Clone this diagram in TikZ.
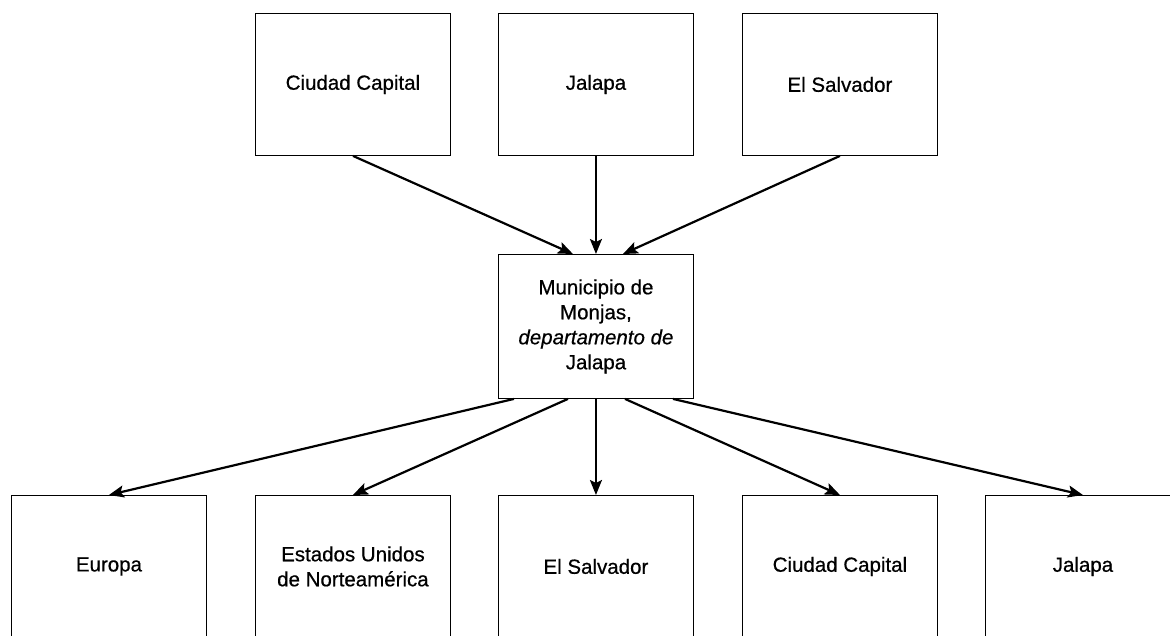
\documentclass[tikz,border=0pt]{standalone}
\usepackage{fontspec}
\setmainfont{Liberation Sans}[FakeBold=0.6,ItalicFeatures={FakeBold=0.6}]
\usetikzlibrary{arrows.meta}
\begin{document}
\begin{tikzpicture}[x=1pt,y=-1pt,
  box/.style={draw=black,line width=0.9pt,minimum width=195pt,minimum height=142pt,inner sep=0pt,align=center,font=\fontsize{20.5}{25}\selectfont,anchor=north west},
  cbox/.style={box,minimum height=144pt},
  arr/.style={line width=2.2pt,-{Stealth[length=15pt,width=12pt,inset=3pt]}}]
\useasboundingbox (0,0) rectangle (1170,635);
% top row
\node[box] (t1) at (255,13) {Ciudad Capital\vphantom{y}};
\node[box] (t2) at (498,13) {Jalapa};
\node[box] (t3) at (742,13) {El Salvador};
% centre
\node[cbox] (c) at (498,254) {Municipio de\\Monjas,\\\textit{departamento de}\\Jalapa};
% bottom row
\node[box] (b1) at (11,495) {Europa};
\node[box] (b2) at (255,495) {\fontsize{20.5}{23}\selectfont Estados Unidos\\de Norteamérica};
\node[box] (b3) at (498,495) {El Salvador};
\node[box] (b4) at (742,495) {Ciudad Capital\vphantom{y}};
\node[box] (b5) at (985,495) {Jalapa};
% arrows in
\draw[arr] (t1.south) -- ([xshift=-23pt]c.north);
\draw[arr] (t2.south) -- (c.north);
\draw[arr] (t3.south) -- ([xshift=27pt]c.north);
% arrows out
\draw[arr] ([xshift=-82pt]c.south) -- (b1.north);
\draw[arr] ([xshift=-28pt]c.south) -- (b2.north);
\draw[arr] (c.south) -- (b3.north);
\draw[arr] ([xshift=29pt]c.south) -- (b4.north);
\draw[arr] ([xshift=77pt]c.south) -- (b5.north);
\end{tikzpicture}
\end{document}
